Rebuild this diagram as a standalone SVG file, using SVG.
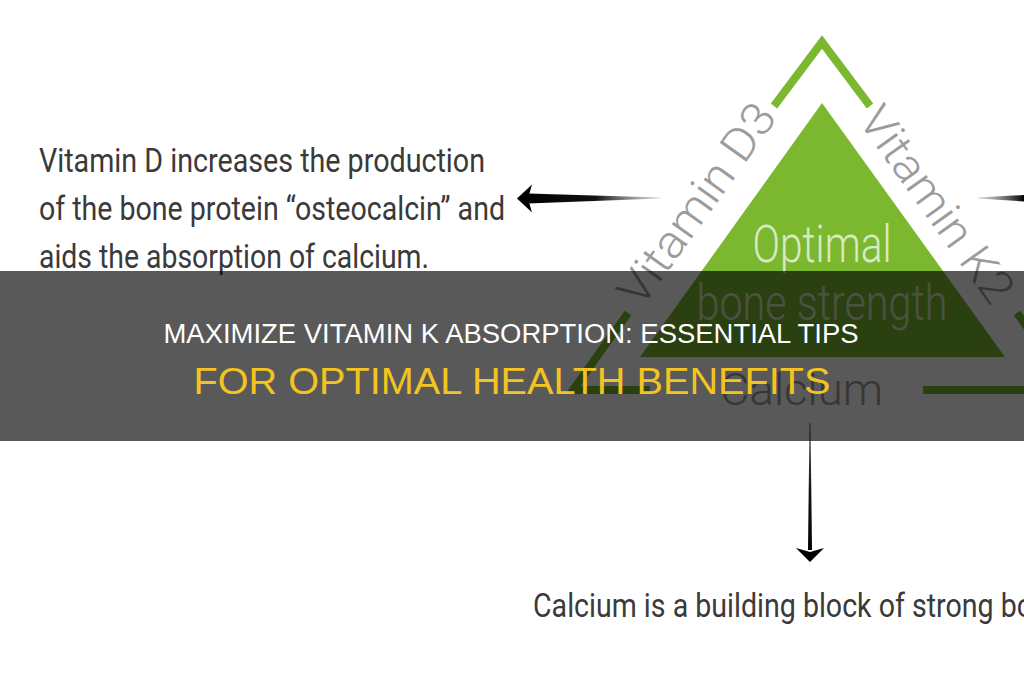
<svg xmlns="http://www.w3.org/2000/svg" width="1024" height="680" viewBox="0 0 1024 680">
  <defs>
    <style>
      .body { font-family: Roboto, "Liberation Sans", sans-serif; font-size: 33px; fill: #3a3a3a; }
      .thin { font-family: Roboto, "Liberation Sans", sans-serif; font-weight: 300; }
      .side { font-size: 46px; fill: #9c9c9c; }
      .inner { fill: #d8eac4; }
      .chev { fill: none; stroke: #7cb82f; stroke-width: 8; stroke-linejoin: miter; }
      .title { font-family: "Liberation Sans", Arial, sans-serif; text-anchor: middle; }
    </style>
    <linearGradient id="fadeL" x1="517" y1="0" x2="660" y2="0" gradientUnits="userSpaceOnUse">
      <stop offset="0" stop-color="#000"/>
      <stop offset="0.55" stop-color="#111"/>
      <stop offset="1" stop-color="#999" stop-opacity="0.4"/>
    </linearGradient>
    <linearGradient id="fadeR" x1="978" y1="0" x2="1024" y2="0" gradientUnits="userSpaceOnUse">
      <stop offset="0" stop-color="#999" stop-opacity="0.4"/>
      <stop offset="1" stop-color="#000"/>
    </linearGradient>
    <linearGradient id="fadeD" x1="0" y1="423" x2="0" y2="562" gradientUnits="userSpaceOnUse">
      <stop offset="0" stop-color="#666"/>
      <stop offset="0.5" stop-color="#111"/>
      <stop offset="1" stop-color="#000"/>
    </linearGradient>
  </defs>

  <rect x="0" y="0" width="1024" height="680" fill="#ffffff"/>

  <g id="pyramid">
    <polygon points="822,103 1005,357 640,357" fill="#7cb82f"/>
    <polyline class="chev" points="774,106 822,42 870,106"/>
    <polyline class="chev" points="628,313 573,390 650,390"/>
    <polyline class="chev" points="1017,313 1072,390 923,390"/>
    <text class="thin inner" x="822" y="262" font-size="52" text-anchor="middle" textLength="139" lengthAdjust="spacingAndGlyphs">Optimal</text>
    <text class="thin inner" x="822" y="320" font-size="50" text-anchor="middle" textLength="251" lengthAdjust="spacingAndGlyphs">bone strength</text>
  </g>

  <g id="vitamin-d3">
    <text class="thin side" transform="translate(641,309) rotate(-54.4)" x="0" y="0" textLength="236" lengthAdjust="spacingAndGlyphs">Vitamin D3</text>
  </g>

  <g id="vitamin-k2">
    <text class="thin side" transform="translate(857,120) rotate(54.4)" x="0" y="0" textLength="230" lengthAdjust="spacingAndGlyphs">Vitamin K2</text>
  </g>

  <g id="calcium">
    <text class="thin" x="720" y="405" font-size="44" fill="#9a9a9a" textLength="163" lengthAdjust="spacingAndGlyphs">Calcium</text>
  </g>

  <g id="vitamin-d-note">
    <text class="body" x="39" y="172" textLength="446" lengthAdjust="spacingAndGlyphs">Vitamin D increases the production</text>
    <text class="body" x="39" y="220" textLength="466" lengthAdjust="spacingAndGlyphs">of the bone protein “osteocalcin” and</text>
    <text class="body" x="39" y="268" textLength="390" lengthAdjust="spacingAndGlyphs">aids the absorption of calcium.</text>
  </g>

  <g id="calcium-note">
    <text class="body" x="533" y="617" font-size="31" textLength="500" lengthAdjust="spacingAndGlyphs">Calcium is a building block of strong bo</text>
  </g>

  <g id="connectors">
    <polygon points="528,193.5 660,197.4 660,198.6 528,203.5" fill="url(#fadeL)"/>
    <path d="M517,198.5 L532,184.5 L528,198.5 L532,212.5 Z" fill="#000"/>
    <polygon points="978,197.6 1024,195 1024,201.5 978,198.6" fill="url(#fadeR)"/>
    <polygon points="809.5,423 810.5,423 812,550 808,550" fill="url(#fadeD)"/>
    <path d="M810,562 L796,548 L810,552 L824,548 Z" fill="#000"/>
  </g>

  <g id="banner">
    <rect x="0" y="271" width="1024" height="170" fill="#000" fill-opacity="0.65"/>
    <text class="title" x="511" y="343" font-size="27" fill="#ffffff" textLength="695" lengthAdjust="spacingAndGlyphs">MAXIMIZE VITAMIN K ABSORPTION: ESSENTIAL TIPS</text>
    <text class="title" x="512" y="394" font-size="36" fill="#f3c31f" textLength="637" lengthAdjust="spacingAndGlyphs">FOR OPTIMAL HEALTH BENEFITS</text>
  </g>
</svg>
